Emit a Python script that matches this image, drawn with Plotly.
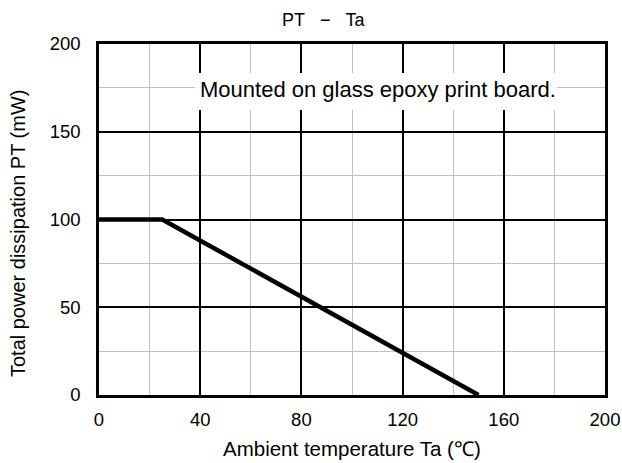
import plotly.graph_objects as go

ta = [0, 25, 150]
pt = [100, 100, 0]
x_ticks = [0, 40, 80, 120, 160, 200]
y_ticks = [0, 50, 100, 150, 200]

FONT = "Liberation Sans, Arial, sans-serif"

fig = go.Figure()
fig.add_trace(go.Scatter(x=ta, y=pt, mode="lines",
                         line=dict(color="black", width=4.5),
                         showlegend=False, hoverinfo="skip"))

axis_common = dict(
    showline=True, linecolor="black", linewidth=2.5, mirror=True,
    showgrid=True, gridcolor="black", gridwidth=2,
    zeroline=False, ticks="", automargin=False,
    tickfont=dict(size=18.5, color="black", family=FONT),
)

fig.update_xaxes(range=[0, 200], tickvals=x_ticks, ticktext=[str(v) for v in x_ticks],
                 minor=dict(dtick=20, tick0=0, showgrid=True, gridcolor="#c0c0c0", gridwidth=1),
                 ticklabelstandoff=6,
                 **axis_common)
fig.update_yaxes(range=[0, 200], tickvals=y_ticks, ticktext=[str(v) for v in y_ticks],
                 minor=dict(dtick=25, tick0=0, showgrid=True, gridcolor="#c0c0c0", gridwidth=1),
                 ticklabelstandoff=12,
                 **axis_common)

fig.add_shape(type="rect", xref="x", yref="y", x0=37.9, x1=181, y0=162.4, y1=183.5,
              fillcolor="white", line=dict(width=0), layer="above")
fig.add_annotation(x=110.1, y=174, xref="x", yref="y", text="Mounted on glass epoxy print board.",
                   showarrow=False, font=dict(size=22, color="black", family=FONT))
fig.add_annotation(x=0.4447, y=1.068, xref="paper", yref="paper",
                   text="PT\u00a0\u00a0\u00a0−\u00a0\u00a0\u00a0Ta",
                   showarrow=False, font=dict(size=18, color="black", family=FONT),
                   xanchor="center", yanchor="middle")
fig.add_annotation(x=0.5, y=-0.151, xref="paper", yref="paper", text="Ambient temperature Ta (℃)",
                   showarrow=False, font=dict(size=20.5, color="black", family=FONT),
                   xanchor="center", yanchor="middle")
fig.add_annotation(x=-0.160, y=0.4615, xref="paper", yref="paper", text="Total power dissipation PT (mW)",
                   showarrow=False, textangle=-90, font=dict(size=20, color="black", family=FONT),
                   xanchor="center", yanchor="middle")

fig.update_layout(
    width=622, height=463,
    margin=dict(l=99, r=17, t=44, b=68),
    paper_bgcolor="white", plot_bgcolor="white",
    font=dict(family=FONT, color="black"),
)

fig.write_html("out.html", config={"displayModeBar": False},
               post_script="document.body.style.margin='0';document.body.style.overflow='hidden';")
